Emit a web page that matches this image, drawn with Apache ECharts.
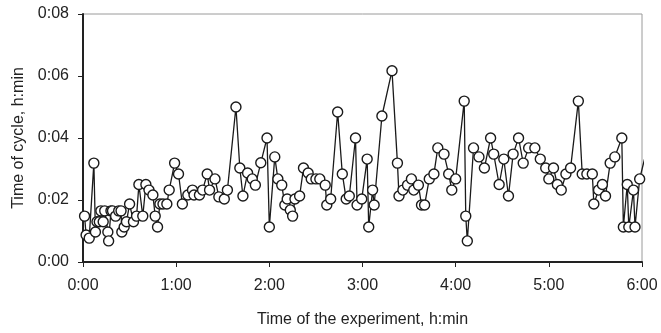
<!DOCTYPE html>
<html>
<head>
<meta charset="utf-8">
<script src="https://cdn.jsdelivr.net/npm/echarts@6/dist/echarts.min.js"></script>
<style>
  html, body { margin: 0; padding: 0; background: #fff; }
  #chart { width: 661px; height: 333px; }
</style>
</head>
<body>
<div id="chart"></div>
<script>
// time of the experiment, minutes from start
const expMinutes = [
  1, 2, 4, 7, 8, 9, 10.5, 11.5, 13, 14, 16, 16.5, 18, 19, 21, 23, 24.5, 25, 26.5, 28,
  30, 32.5, 34.5, 36, 38.5, 40.5, 42.5, 45, 46.5, 48, 49.5, 51.5, 54, 55.5, 59, 61.5, 64, 67.5, 70.5, 71.5,
  75, 77, 80, 81.5, 85, 87.5, 91, 93, 98.5, 101, 103, 106, 109, 111, 114.5, 118.5, 120, 123.5, 125.5, 128,
  130, 131.5, 133.5, 135, 136.5, 139.5, 142, 145, 147, 150, 152.5, 156, 157, 159.5, 164, 167, 169.5, 171.5, 175.5, 176.5,
  179.5, 183, 184, 186.5, 187.5, 192.5, 199, 202.5, 203.5, 206, 209, 211.5, 213, 216, 218, 220, 223, 226, 228.5, 232.5,
  235.5, 237.5, 240, 245.5, 246.5, 247.5, 251.5, 255, 258.5, 262.5, 264.5, 268, 271, 274, 277, 280.5, 283.5, 287, 291, 294.5,
  298, 300, 303, 305.5, 308, 311, 314, 319, 321.5, 324.5, 328, 329, 332, 334.5, 336.5, 339.5, 342.5, 347, 348, 350.5,
  351.5, 354.5, 355.5, 358.5, 362.5
]

// time of cycle, minutes
const cycleMinutes = [
  1.48, 0.87, 0.77, 3.19, 0.97, 1.3, 1.3, 1.65, 1.3, 1.65, 0.97, 0.68, 1.65, 1.65, 1.48, 1.65, 1.65, 0.97, 1.13, 1.3,
  1.87, 1.3, 1.48, 2.5, 1.48, 2.5, 2.32, 2.16, 1.48, 1.13, 1.87, 1.87, 1.87, 2.32, 3.19, 2.84, 1.87, 2.16, 2.32, 2.16,
  2.16, 2.32, 2.84, 2.32, 2.68, 2.1, 2.03, 2.32, 5.0, 3.03, 2.13, 2.87, 2.68, 2.48, 3.2, 4.0, 1.13, 3.39, 2.68, 2.48,
  1.84, 2.03, 1.68, 1.48, 2.03, 2.13, 3.03, 2.87, 2.68, 2.68, 2.68, 2.48, 1.84, 2.03, 4.84, 2.84, 2.03, 2.13, 4.0, 1.84,
  2.03, 3.32, 1.13, 2.32, 1.84, 4.71, 6.17, 3.19, 2.13, 2.32, 2.48, 2.68, 2.32, 2.48, 1.84, 1.84, 2.68, 2.84, 3.68, 3.48,
  2.84, 2.32, 2.68, 5.19, 1.48, 0.68, 3.68, 3.39, 3.03, 4.0, 3.48, 2.5, 3.32, 2.13, 3.48, 4.0, 3.19, 3.68, 3.68, 3.32,
  3.03, 2.68, 3.03, 2.5, 2.32, 2.84, 3.03, 5.19, 2.84, 2.84, 2.84, 1.87, 2.32, 2.5, 2.13, 3.19, 3.39, 4.0, 1.13, 2.5,
  1.13, 2.32, 1.13, 2.68, 3.5
]

const xTicks = ['0:00', '1:00', '2:00', '3:00', '4:00', '5:00', '6:00']
const yTicks = ['0:00', '0:02', '0:04', '0:06', '0:08']

const font = 'Liberation Sans, Arial, sans-serif'
const lastIdx = expMinutes.length - 1

const points = expMinutes.map((m, i) => {
  const p = { value: [m, cycleMinutes[i]] }
  if (i === lastIdx) p.symbol = 'none'   // runs off the right edge
  return p
})

const option = {
  animation: false,
  grid: {
    left: 83,
    right: 19,
    top: 14,
    bottom: 71,
    show: true,
    borderColor: '#9a9a9a',
    borderWidth: 1,
    backgroundColor: '#fff'
  },
  xAxis: {
    type: 'value',
    min: 0,
    max: 360,
    interval: 60,
    name: 'Time of the experiment, h:min',
    nameLocation: 'middle',
    nameGap: 50,
    nameTextStyle: { fontFamily: font, fontSize: 16, color: '#222' },
    axisLine: { show: true, lineStyle: { color: '#222', width: 2 } },
    axisTick: { show: true, inside: false, length: 5, lineStyle: { color: '#222', width: 1 } },
    axisLabel: {
      fontFamily: font, fontSize: 16, color: '#222', margin: 16,
      formatter: (v) => xTicks[Math.round(v / 60)]
    },
    splitLine: { show: false }
  },
  yAxis: {
    type: 'value',
    min: 0,
    max: 8,
    interval: 2,
    name: 'Time of cycle, h:min',
    nameLocation: 'middle',
    nameGap: 56,
    nameTextStyle: { fontFamily: font, fontSize: 16, color: '#222' },
    axisLine: { show: true, lineStyle: { color: '#222', width: 2 } },
    axisTick: { show: true, inside: false, length: 5, lineStyle: { color: '#222', width: 1 } },
    axisLabel: {
      fontFamily: font, fontSize: 16, color: '#222', margin: 14,
      formatter: (v) => yTicks[Math.round(v / 2)]
    },
    splitLine: { show: false }
  },
  series: [{
    type: 'line',
    data: points,
    clip: true,
    symbol: 'circle',
    symbolSize: 10,
    showAllSymbol: true,
    lineStyle: { color: '#1a1a1a', width: 1.3 },
    itemStyle: { color: '#fff', borderColor: '#1a1a1a', borderWidth: 1.4 }
  }]
}

const myChart = echarts.init(document.getElementById('chart'))
myChart.setOption(option)
</script>
</body>
</html>
